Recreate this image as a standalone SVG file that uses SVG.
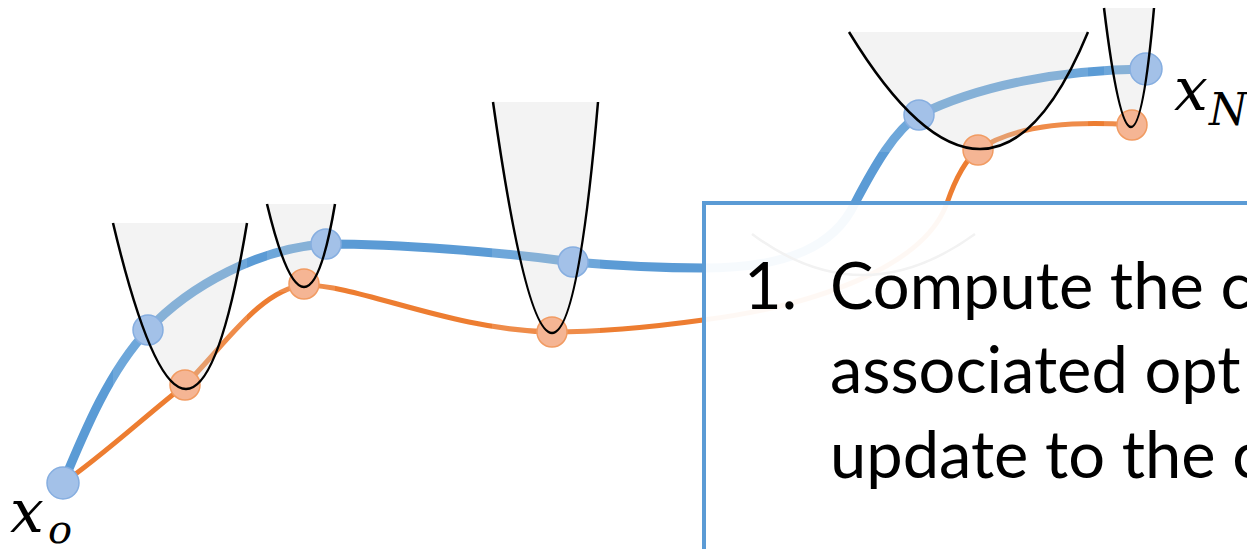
<svg xmlns="http://www.w3.org/2000/svg" width="1247" height="549" viewBox="0 0 1247 549">
<style>
.bl{fill:none;stroke:#5B9BD5;stroke-width:9;stroke-linecap:round}
.or{fill:none;stroke:#ED7D31;stroke-width:5;stroke-linecap:round}
.haze{fill:#ffffff;fill-opacity:0.12}
.bowl{fill:#cfcfcf;fill-opacity:0.25;stroke:none}
.par{fill:none;stroke:#000;stroke-width:2.5}
.bn{fill:#A3C1E8;stroke:#86AEE0;stroke-width:1.5}
.on{fill:#F5B594;stroke:#F19B62;stroke-width:1.5}
.math{font-family:"DejaVu Serif","Liberation Serif",serif;font-style:italic;fill:#000}
.body{font-family:Lato,"Noto Sans",sans-serif;font-size:65px;fill:#000}
</style>
<g id="connectors">
<path id="blue-traj" class="bl" d="M63,483 C85,430 110,370 148,330 C190,285 260,248 326,244 C400,244 500,252 573,262 C620,266 670,268 703,268 C790,268 835,245 855,203 C875,165 895,130 919,115 C980,85 1060,70 1146,69"/>
<path id="orange-traj" class="or" d="M63,483 C100,458 150,412 185,385 C225,345 260,290 304,285 C360,285 450,330 552,332 C600,332 660,326 703,320 C820,305 925,265 947,203 C955,180 965,160 978,150 C1010,128 1060,120 1132,125"/>
</g>
<g id="cost1">
<rect class="haze" x="113" y="223" width="134" height="170"/>
<path class="bowl" d="M113,223 Q192,555 247,223 Z"/>
</g>
<g id="cost2">
<rect class="haze" x="267" y="204" width="68" height="88"/>
<path class="bowl" d="M267,204 Q307,370 335,204 Z"/>
</g>
<g id="cost3">
<rect class="haze" x="492" y="102" width="108" height="238"/>
<path class="bowl" d="M493,102 Q558.5,564 598,102 Z"/>
</g>
<g id="cost4">
<rect class="haze" x="849" y="32" width="239" height="120"/>
<path class="bowl" d="M849,32 Q991.5,266 1088,32 Z"/>
</g>
<g id="cost5">
<rect class="haze" x="1104" y="8" width="50" height="122"/>
<path class="bowl" d="M1104,8 Q1133,246 1154,8 Z"/>
</g>
<g id="nodes">
<circle id="b0" class="bn" cx="63" cy="483" r="16"/>
<circle id="b1" class="bn" cx="148" cy="330" r="15"/>
<circle id="b2" class="bn" cx="326" cy="244" r="15"/>
<circle id="b3" class="bn" cx="573" cy="262" r="15"/>
<circle id="b4" class="bn" cx="919" cy="115" r="15"/>
<circle id="b5" class="bn" cx="1146" cy="69" r="16"/>
<circle id="o1" class="on" cx="185" cy="385" r="15"/>
<circle id="o2" class="on" cx="304" cy="284" r="15"/>
<circle id="o3" class="on" cx="552" cy="332" r="15"/>
<circle id="o4" class="on" cx="978" cy="150" r="15"/>
<circle id="o5" class="on" cx="1132" cy="125" r="15"/>
</g>
<g id="parabolas">
<path class="par" d="M113,223 Q192,555 247,223"/>
<path class="par" d="M267,204 Q307,370 335,204"/>
<path class="par" d="M493,102 Q558.5,564 598,102"/>
<path class="par" d="M849,32 Q991.5,266 1088,32"/>
<path class="par" d="M1104,8 Q1133,246 1154,8"/>
<path class="par" d="M752,234 Q862,316 975,234"/>
</g>
<g id="label-x0">
<text class="math" x="10" y="532" font-size="60">x</text>
<text class="math" x="48" y="543" font-size="40">o</text>
</g>
<g id="label-xN">
<text class="math" x="1174" y="110" font-size="60">x</text>
<text class="math" x="1209" y="125" font-size="44">N</text>
</g>
<g id="textbox">
<rect x="704" y="203" width="700" height="400" fill="#ffffff" fill-opacity="0.95" stroke="#5B9BD5" stroke-width="4"/>
<text class="body" x="744" y="309">1.</text>
<text class="body" x="830" y="309">Compute the c</text>
<text class="body" x="830" y="393">associated opt</text>
<text class="body" x="830" y="478">update to the c</text>
</g>
</svg>
